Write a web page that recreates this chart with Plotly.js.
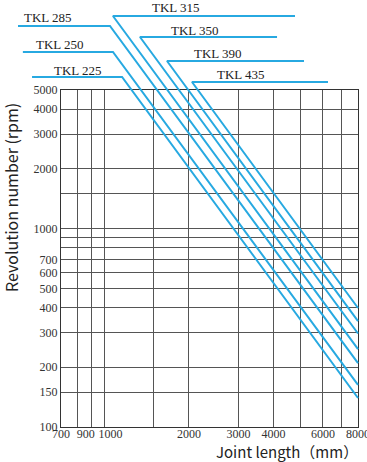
<!DOCTYPE html>
<html>
<head>
<meta charset="utf-8">
<script src="https://cdn.plot.ly/plotly-3.0.1.min.js"></script>
<style>html,body{margin:0;padding:0;background:#fff}#chart{width:367px;height:462px}</style>
</head>
<body>
<div id="chart"></div>
<script>
// ---- data ----
const seriesNames   = ['TKL 225','TKL 250','TKL 285','TKL 315','TKL 350','TKL 390','TKL 435'];
// horizontal leader line: from leaderLength to cornerLength at cornerRpm
const leaderLength  = [552, 512, 492, 4772, 4118, 5137, 6256];
const cornerLength  = [1155, 1072, 1046, 1072, 1338, 1670, 2050];
const cornerRpm     = [5814, 7774, 10510, 11806, 9251, 7001, 5487];
// diagonal ends at the right edge of the chart
const endLength     = [8000, 8000, 8000, 8000, 8000, 8000, 8000];
const endRpm        = [140, 163, 210, 247, 296, 342, 398];

const xGridVals  = [700, 800, 900, 1000, 1500, 2000, 3000, 4000, 5000, 6000, 7000, 8000];
const xTickText  = ['700', '', '900\u2007\u2007', '\u2007\u20071000', '', '2000', '3000', '4000', '', '6000', '', '8000'];
const yGridVals  = [100, 150, 200, 300, 400, 500, 600, 700, 800, 900, 1000, 1500, 2000, 3000, 4000, 5000];
const yTickText  = ['100', '150', '200', '300', '400', '500', '600', '700', '', '', '1000', '', '2000', '3000', '4000', '5000'];

// ---- layout geometry ----
const W = 367, H = 462;
const P = {left: 61, right: 358, top: 90, bottom: 427};
const xMin = 700, xMax = 8000, yMin = 100, yMax = 5000;
const L = Math.log10;
const pxDecX = (P.right - P.left) / (L(xMax) - L(xMin));
const pxDecY = (P.bottom - P.top) / (L(yMax) - L(yMin));
const x2Range = [L(xMin) - P.left / pxDecX, L(xMax) + (W - P.right) / pxDecX];
const y2Range = [L(yMin) - (H - P.bottom) / pxDecY, L(yMax) + P.top / pxDecY];

const labelPos = [[78, 71], [60, 45], [48, 17], [176, 8], [195, 30], [218, 53], [241, 74]];

const blue = '#27a9e1';
const traces = seriesNames.map((name, i) => ({
  type: 'scatter', mode: 'lines', name: name,
  x: [leaderLength[i], cornerLength[i], endLength[i]],
  y: [cornerRpm[i], cornerRpm[i], endRpm[i]],
  xaxis: 'x2', yaxis: 'y2',
  line: {color: blue, width: 2},
  hoverinfo: 'skip', showlegend: false
}));
// invisible trace to make the main subplot exist
traces.unshift({type: 'scatter', mode: 'lines', x: [xMin, xMax], y: [yMin, yMax],
  line: {width: 0}, hoverinfo: 'skip', showlegend: false, opacity: 0});

const tickFont = {family: 'Liberation Serif, serif', size: 12, color: '#333'};
const gridColor = '#555';

const annotations = seriesNames.map((name, i) => ({
  text: name, xref: 'paper', yref: 'paper',
  x: labelPos[i][0] / W, y: 1 - labelPos[i][1] / H,
  xanchor: 'center', yanchor: 'middle', showarrow: false,
  font: {family: 'Liberation Serif, serif', size: 13, color: '#222'}
}));
annotations.push({
  text: 'Revolution number (rpm)', xref: 'paper', yref: 'paper',
  x: 11 / W, y: 1 - 198 / H, textangle: -90, showarrow: false,
  xanchor: 'center', yanchor: 'middle',
  font: {family: 'Noto Sans CJK SC, Noto Sans, sans-serif', size: 16, color: '#222'}
});
annotations.push({
  text: 'Joint length（mm）', xref: 'paper', yref: 'paper',
  x: 287 / W, y: 1 - 451 / H, showarrow: false,
  xanchor: 'center', yanchor: 'middle',
  font: {family: 'Noto Sans CJK SC, Noto Sans, sans-serif', size: 15, color: '#222'}
});

const layout = {
  width: W, height: H,
  margin: {l: 0, r: 0, t: 0, b: 0, pad: 0},
  paper_bgcolor: '#fff', plot_bgcolor: 'rgba(0,0,0,0)',
  showlegend: false,
  xaxis: {
    type: 'log', range: [L(xMin), L(xMax)], domain: [P.left / W, P.right / W],
    tickmode: 'array', tickvals: xGridVals, ticktext: xTickText, tickangle: 0,
    ticklabeloverflow: 'allow', ticklabelstandoff: -4,
    showgrid: true, gridcolor: gridColor, gridwidth: 1,
    showline: true, mirror: true, linecolor: '#333', linewidth: 1,
    ticks: '', zeroline: false, tickfont: tickFont, fixedrange: true, automargin: false,
    anchor: 'y'
  },
  yaxis: {
    type: 'log', range: [L(yMin), L(yMax)], domain: [1 - P.bottom / H, 1 - P.top / H],
    tickmode: 'array', tickvals: yGridVals, ticktext: yTickText,
    ticklabeloverflow: 'allow',
    showgrid: true, gridcolor: gridColor, gridwidth: 1,
    showline: true, mirror: true, linecolor: '#333', linewidth: 1,
    ticks: '', zeroline: false, tickfont: tickFont, fixedrange: true, automargin: false,
    anchor: 'x'
  },
  xaxis2: {type: 'log', range: x2Range, domain: [0, 1], anchor: 'y2', visible: false, fixedrange: true},
  yaxis2: {type: 'log', range: y2Range, domain: [0, 1], anchor: 'x2', visible: false, fixedrange: true},
  annotations: annotations
};

Plotly.newPlot('chart', traces, layout, {displayModeBar: false, staticPlot: true});
</script>
</body>
</html>
